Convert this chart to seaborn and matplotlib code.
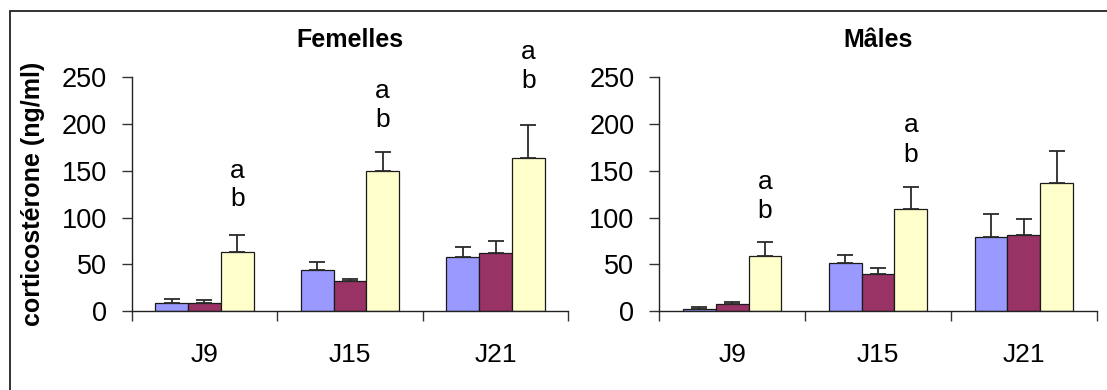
import matplotlib
matplotlib.use("Agg")
import matplotlib.pyplot as plt
import seaborn as sns
import pandas as pd
from matplotlib.patches import Rectangle

# ---- data ----
days = ["J9", "J15", "J21"]
groups = ["groupe 1", "groupe 2", "groupe 3"]
panels = ["Femelles", "Mâles"]

fem_g1 = [9, 43.5, 58]
fem_g2 = [9, 32, 62]
fem_g3 = [63, 149.5, 164]
fem_err_g1 = [4, 9, 10]
fem_err_g2 = [2.5, 2.5, 13]
fem_err_g3 = [18, 21, 35]

mal_g1 = [2, 51, 79.5]
mal_g2 = [7.5, 40, 81.5]
mal_g3 = [59, 109, 137]
mal_err_g1 = [2, 9, 24]
mal_err_g2 = [2, 6, 17]
mal_err_g3 = [15, 24, 34]

# significance letters (category index, y of "a", y of "b") on group 3 bars
fem_letters = [(0, 150, 120), (1, 235, 204), (2, 277, 246)]
mal_letters = [(0, 138, 107), (1, 199, 167)]

colors = ["#9999FF", "#993366", "#FFFFCC"]
ylabel = "corticostérone (ng/ml)"

panel_values = {
    "Femelles": ([fem_g1, fem_g2, fem_g3], [fem_err_g1, fem_err_g2, fem_err_g3], fem_letters),
    "Mâles": ([mal_g1, mal_g2, mal_g3], [mal_err_g1, mal_err_g2, mal_err_g3], mal_letters),
}

sns.set_style("white")
plt.rcParams["font.family"] = ["Liberation Sans", "DejaVu Sans"]
plt.rcParams["text.color"] = "black"
plt.rcParams["xtick.color"] = "black"
plt.rcParams["ytick.color"] = "black"
plt.rcParams["axes.labelcolor"] = "black"

fig = plt.figure(figsize=(11.07, 3.90), dpi=100)
H = 390.0
W = 1107.0
bottom = (H - 311) / H
height = (311 - 77.3) / H
axes = [
    fig.add_axes([131.7 / W, bottom, (568.3 - 131.7) / W, height]),
    fig.add_axes([659.3 / W, bottom, (1096.7 - 659.3) / W, height]),
]

for ax, panel in zip(axes, panels):
    vals, errs, letters = panel_values[panel]
    rows = []
    for g, series in zip(groups, vals):
        for d, v in zip(days, series):
            rows.append({"jour": d, "groupe": g, "valeur": v})
    df = pd.DataFrame(rows)
    sns.barplot(data=df, x="jour", y="valeur", hue="groupe", order=days,
                hue_order=groups, palette=colors, width=0.674, errorbar=None,
                edgecolor="#1a1a1a", linewidth=0.9, legend=False, ax=ax,
                saturation=1)
    # error bars (upper only) at the bar positions
    for cont, err in zip(ax.containers, errs):
        for bar, e in zip(cont, err):
            xc = bar.get_x() + bar.get_width() / 2
            ax.errorbar([xc], [bar.get_height()], yerr=[[0], [e]], fmt="none",
                        ecolor="#2a2a2a", elinewidth=1.3, capsize=6, capthick=1.3,
                        zorder=1)
    # significance letters above group-3 bars
    g3 = ax.containers[2]
    for ci, ya, yb in letters:
        bar = g3[ci]
        xc = bar.get_x() + bar.get_width() / 2
        ax.text(xc, ya, "a", ha="center", va="center", fontsize=19, clip_on=False)
        ax.text(xc, yb, "b", ha="center", va="center", fontsize=19, clip_on=False)

    ax.set_xlim(-0.5, 2.5)
    ax.set_ylim(0, 250)
    ax.set_yticks([0, 50, 100, 150, 200, 250])
    ax.set_xticks([-0.5, 0.5, 1.5, 2.5])
    ax.set_xticklabels([])
    ax.set_xticks([0, 1, 2], minor=True)
    ax.set_xticklabels(days, minor=True)
    ax.tick_params(axis="x", which="major", direction="out", length=7.2,
                   width=1, color="#333333", bottom=True)
    ax.tick_params(axis="x", which="minor", length=0, pad=23, labelsize=19)
    ax.tick_params(axis="y", direction="out", length=7.2, width=1,
                   color="#333333", left=True, pad=10.8, labelsize=19.5)
    for s in ["top", "right"]:
        ax.spines[s].set_visible(False)
    for s in ["left", "bottom"]:
        ax.spines[s].set_color("#222222")
        ax.spines[s].set_linewidth(1.0)
    ax.set_xlabel("")
    ax.set_ylabel("")
    ax.set_title(panel, fontsize=18, fontweight="bold", pad=22)

axes[0].set_ylabel(ylabel, fontsize=18, fontweight="bold")
axes[0].yaxis.set_label_coords(-0.199, 0.5)

# chart-area border
fig.patches.append(Rectangle((10 / W, -0.05), 1.2, (H - 10.5) / H + 0.05,
                             transform=fig.transFigure, fill=False,
                             edgecolor="#222222", linewidth=1.3))

fig.savefig("out.png", dpi=100)
